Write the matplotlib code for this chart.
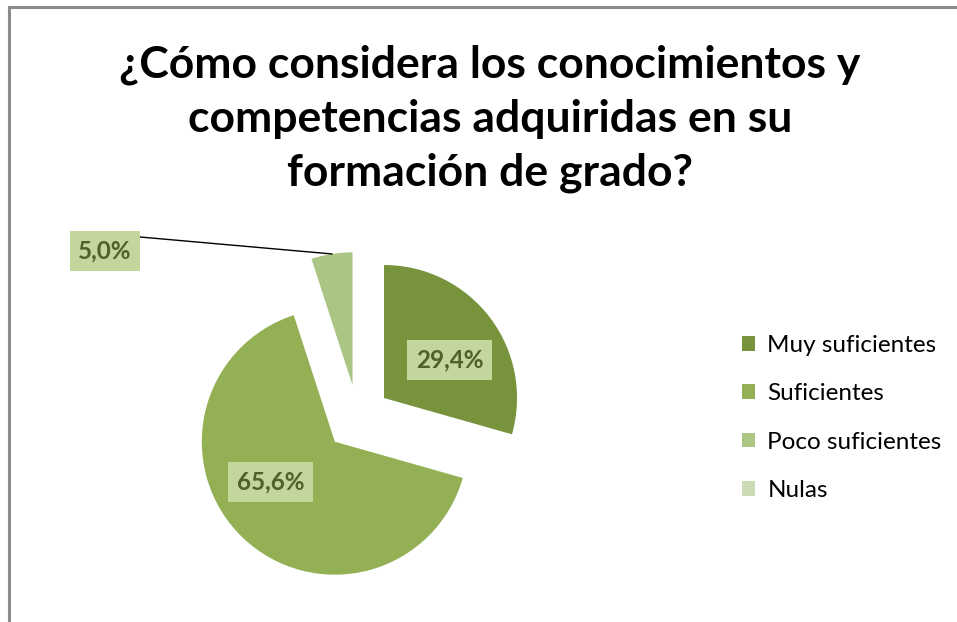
import math
import matplotlib
matplotlib.use("Agg")
import matplotlib.pyplot as plt
from matplotlib.patches import Rectangle

title = "¿Cómo considera los conocimientos y\ncompetencias adquiridas en su\nformación de grado?"
categories = ["Muy suficientes", "Suficientes", "Poco suficientes", "Nulas"]
values = [29.4, 65.6, 5.0, 0.0]
value_labels = ["29,4%", "65,6%", "5,0%", ""]
colors = ["#77933C", "#93B055", "#ABC585", "#CCDBB6"]

W, H = 957, 622
fig = plt.figure(figsize=(W / 100, H / 100), dpi=100)
ax = fig.add_axes([0, 0, 1, 1])

# chart border (extends past right/bottom)
ax.add_patch(Rectangle((9, -20), W + 40, H - 7 + 20, fill=False,
                       edgecolor="#8C8C8C", linewidth=2.2))

center = (357.7, 622 - 417.9)
radius = 133
expl = 33
wedges, _ = ax.pie(values, colors=colors, startangle=90, counterclock=False,
                   center=center, radius=radius, explode=[expl] * len(values),
                   wedgeprops=dict(linewidth=0), frame=True)
ax.set_xlim(0, W)
ax.set_ylim(0, H)
ax.set_aspect("equal")
ax.axis("off")

font = "Lato"
box = dict(boxstyle="square,pad=0.35", facecolor="#C3D69B", edgecolor="none")
label_dist = [0.57, 0.57]
label_rot = [-7, -14]
for i, w in enumerate(wedges[:2]):
    th = math.radians((w.theta1 + w.theta2) / 2 + label_rot[i])
    cx, cy = w.center
    d = radius * label_dist[i]
    ax.text(cx + d * math.cos(th), cy + d * math.sin(th), value_labels[i],
            ha="center", va="center", fontsize=17.5, fontweight="bold",
            color="#4F6228", family=font, bbox=box)

# outside label for small slice with leader line
w = wedges[2]
th = math.radians((w.theta1 + w.theta2) / 2)
cx, cy = w.center
ex, ey = cx + radius * math.cos(th), cy + radius * math.sin(th)
lx, ly = 105, 622 - 251
ax.plot([lx + 35, ex], [ly + 14, ey], color="black", linewidth=1)
ax.text(lx, ly, value_labels[2], ha="center", va="center", fontsize=17.5,
        fontweight="bold", color="#4F6228", family=font, bbox=box)

ax.text(490, 622 - 119, title, ha="center", va="center", fontsize=32,
        fontweight="bold", family=font, linespacing=1.42, color="black")

leg = ax.legend(wedges, categories, loc="center left",
                bbox_to_anchor=(720 / W, 1 - 418 / H), frameon=False,
                prop=dict(family=font, size=17.5), labelspacing=1.13,
                handlelength=0.55, handleheight=0.55, handletextpad=0.5)

fig.savefig("out.png", dpi=100, facecolor="white")
